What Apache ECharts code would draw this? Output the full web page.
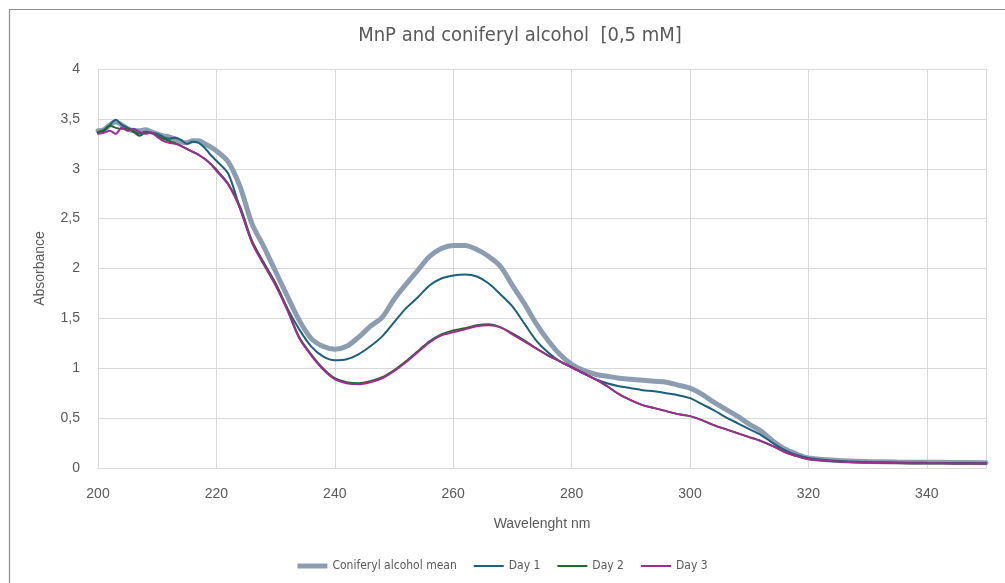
<!DOCTYPE html>
<html>
<head>
<meta charset="utf-8">
<script src="https://cdn.jsdelivr.net/npm/echarts@6/dist/echarts.min.js"></script>
<style>
html,body{margin:0;padding:0;background:#fff;}
#chart{width:1005px;height:583px;}
</style>
</head>
<body>
<div id="chart"></div>
<script>
const wavelengths = [200,201,202,203,204,205,206,207,208,209,210,211,212,213,214,215,216,217,218,219,220,
  222,224,226,228,230,232,234,236,238,240,242,244,246,248,250,252,254,256,258,260,262,264,266,268,270,
  272,274,276,278,280,282,284,286,288,290,292,294,296,298,300,302,304,306,308,310,312,314,316,318,320,
  325,330,335,340,345,350];

const meanValues = [3.38,3.39,3.44,3.47,3.44,3.40,3.38,3.38,3.39,3.37,3.35,3.33,3.32,3.30,3.27,3.26,3.28,3.28,3.25,3.22,3.18,
  3.07,2.82,2.45,2.22,1.97,1.72,1.48,1.30,1.22,1.19,1.22,1.31,1.42,1.51,1.69,1.84,1.98,2.12,2.20,2.23,2.23,2.19,2.12,2.02,1.83,
  1.65,1.45,1.28,1.14,1.04,0.98,0.94,0.92,0.90,0.89,0.88,0.87,0.86,0.83,0.80,0.74,0.66,0.59,0.52,0.44,0.37,0.27,0.19,0.14,0.10,
  0.075,0.065,0.06,0.058,0.055,0.053];

const day1Values = [3.36,3.38,3.44,3.49,3.44,3.41,3.38,3.35,3.37,3.36,3.35,3.32,3.30,3.31,3.29,3.25,3.27,3.26,3.21,3.14,3.08,
  2.95,2.60,2.27,2.05,1.85,1.60,1.39,1.22,1.12,1.08,1.09,1.14,1.22,1.32,1.46,1.60,1.71,1.83,1.90,1.93,1.94,1.92,1.85,1.74,1.62,
  1.45,1.28,1.16,1.07,1.01,0.95,0.89,0.85,0.82,0.80,0.78,0.77,0.75,0.73,0.70,0.64,0.58,0.51,0.45,0.39,0.33,0.25,0.18,0.13,0.10,
  0.07,0.06,0.055,0.052,0.05,0.048];

const day2Values = [3.37,3.39,3.43,3.41,3.40,3.40,3.37,3.33,3.36,3.36,3.33,3.30,3.28,3.26,3.23,3.20,3.17,3.14,3.10,3.05,2.99,
  2.85,2.62,2.28,2.06,1.85,1.59,1.31,1.14,1.00,0.90,0.86,0.85,0.87,0.91,0.98,1.07,1.17,1.27,1.34,1.38,1.40,1.43,1.44,1.41,1.35,
  1.28,1.20,1.13,1.07,1.01,0.95,0.89,0.82,0.74,0.68,0.63,0.60,0.57,0.54,0.52,0.48,0.43,0.39,0.35,0.31,0.27,0.22,0.16,0.12,0.09,
  0.065,0.055,0.05,0.048,0.046,0.045];

const day3Values = [3.35,3.36,3.38,3.35,3.41,3.38,3.40,3.37,3.35,3.36,3.32,3.28,3.26,3.25,3.23,3.20,3.17,3.14,3.10,3.05,2.98,
  2.84,2.60,2.26,2.04,1.83,1.58,1.30,1.13,0.99,0.89,0.85,0.84,0.86,0.90,0.97,1.06,1.16,1.26,1.33,1.36,1.39,1.42,1.43,1.41,1.34,
  1.27,1.20,1.13,1.07,1.01,0.95,0.89,0.82,0.74,0.68,0.63,0.60,0.57,0.54,0.52,0.48,0.43,0.39,0.35,0.31,0.27,0.22,0.16,0.12,0.09,
  0.065,0.055,0.05,0.048,0.046,0.045];

const seriesNames = ['Coniferyl alcohol mean','Day 1','Day 2','Day 3'];
const titleText = 'MnP and coniferyl alcohol  [0,5 mM]';
const xName = 'Wavelenght nm';
const yName = 'Absorbance';

function pairs(vals){ return wavelengths.map((w,i)=>[w, vals[i]]); }

const chart = echarts.init(document.getElementById('chart'), null, {renderer:'canvas'});
const narrow = "'Liberation Sans Narrow','DejaVu Sans Condensed','Roboto',sans-serif";
const sans = "'Liberation Sans',Arial,sans-serif";
const txt = '#595959';
const colors = ['#8c9db1','#1d5f7e','#1e6b2a','#a02b93'];
const widths = [5,2,2,2];

function mk(i, vals){
  return {
    name: seriesNames[i], type:'line', data: pairs(vals), showSymbol:false, symbol:'none',
    smooth:0.3, lineStyle:{color:colors[i], width:widths[i], cap:'round'}, itemStyle:{color:colors[i]},
    emphasis:{disabled:true}, animation:false
  };
}

// legend icons: a bar inside a 30x5 box (tiny corner squares fix the box)
const thickIcon = 'path://M0,0H30V5H0Z';
const thinIcon = 'path://M0,0H0.01V0.01H0Z M0,1.5H30V3.5H0Z M29.99,4.99H30V5H29.99Z';

chart.setOption({
  animation:false,
  backgroundColor:'#fff',
  title:{text:titleText, left:515, top:21, textAlign:'center',
    textStyle:{fontFamily:narrow, fontSize:20, fontWeight:'normal', color:txt}},
  grid:{left:98, right:19, top:69, bottom:115},
  legend:{bottom:6, left:'center', itemWidth:30, itemHeight:5, itemGap:17,
    textStyle:{fontFamily:narrow, fontSize:12, color:txt},
    data:seriesNames.map((n,i)=>({name:n, icon: i===0?thickIcon:thinIcon,
      itemStyle:{color:colors[i], borderWidth:0}}))},
  xAxis:{type:'value', min:200, max:350, interval:20,
    name:xName, nameLocation:'middle', nameGap:49,
    nameTextStyle:{fontFamily:sans, fontSize:14, color:txt},
    axisLine:{show:true, lineStyle:{color:'#d9d9d9'}}, axisTick:{show:false},
    axisLabel:{fontFamily:sans, fontSize:14, color:txt, margin:19, showMaxLabel:false},
    splitLine:{show:true, lineStyle:{color:'#d9d9d9', width:1}}},
  yAxis:{type:'value', min:0, max:4, interval:0.5,
    name:yName, nameLocation:'middle', nameGap:51,
    nameTextStyle:{fontFamily:sans, fontSize:14, color:txt},
    axisLine:{show:false}, axisTick:{show:false},
    axisLabel:{fontFamily:sans, fontSize:14, color:txt, margin:18,
      formatter:v=>String(v).replace('.',',')},
    splitLine:{show:true, lineStyle:{color:'#d9d9d9', width:1}}},
  graphic:[{type:'rect', shape:{x:9.5,y:9.5,width:1100,height:700},
    style:{fill:'none', stroke:'#8c8c8c', lineWidth:1.2}, silent:true, z:-1}],
  series:[
    mk(0, meanValues),
    mk(1, day1Values),
    mk(2, day2Values),
    mk(3, day3Values)
  ]
});
</script>
</body>
</html>
